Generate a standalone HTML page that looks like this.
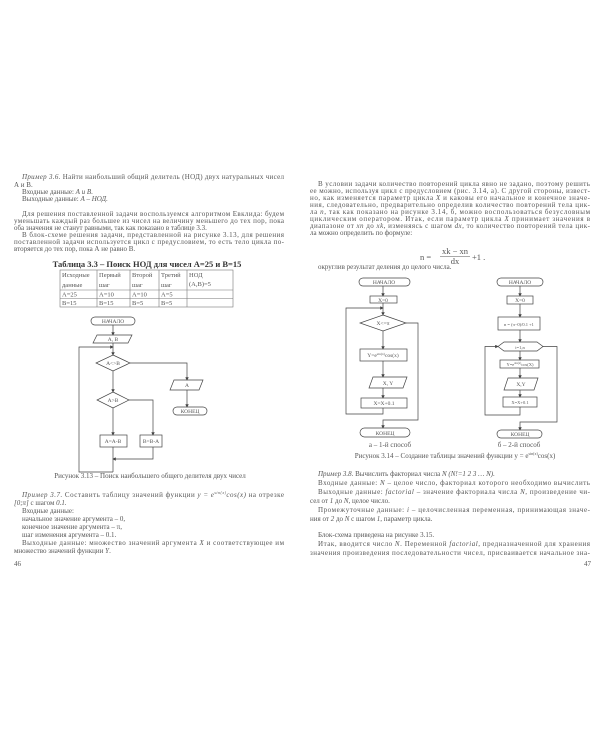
<!DOCTYPE html>
<html><head><meta charset="utf-8"><style>
html,body{margin:0;padding:0;background:#fff;}
svg{display:block;}
text{font-family:"Liberation Serif","DejaVu Serif",serif;fill:#555;}
.t{font-size:7px;}
.s{font-family:"Liberation Sans",sans-serif;font-size:5.5px;fill:#444;}
.i{font-style:italic;}
</style></head><body>
<svg width="600" height="750" viewBox="0 0 600 750" xmlns="http://www.w3.org/2000/svg">
<defs><marker id="a" markerWidth="5" markerHeight="5" refX="4" refY="2.5" orient="auto"><path d="M0,0 L5,2.5 L0,5z" fill="#444"/></marker></defs>
<rect width="600" height="750" fill="#fff"/>
<!-- LEFT PAGE TEXT -->
<g class="t">
<text x="22" y="179" textLength="262"><tspan class="i">Пример 3.6.</tspan> Найти наибольший общий делитель (НОД) двух натуральных чисел</text>
<text x="14" y="187">А и В.</text>
<text x="22" y="194">Входные данные: <tspan class="i">А и В.</tspan></text>
<text x="22" y="201">Выходные данные: <tspan class="i">А – НОД.</tspan></text>
<text x="22" y="216" textLength="262">Для решения поставленной задачи воспользуемся алгоритмом Евклида: будем</text>
<text x="14" y="223" textLength="270">уменьшать каждый раз большее из чисел на величину меньшего до тех пор, пока</text>
<text x="14" y="230">оба значения не станут равными, так как показано в таблице 3.3.</text>
<text x="22" y="237" textLength="262">В блок-схеме решения задачи, представленной на рисунке 3.13, для решения</text>
<text x="14" y="244" textLength="270">поставленной задачи используется цикл с предусловием, то есть тело цикла по-</text>
<text x="14" y="251">вторяется до тех пор, пока А не равно В.</text>
</g>
<text x="147" y="267" text-anchor="middle" style="font-size:8.5px;font-weight:bold;fill:#333">Таблица 3.3 – Поиск НОД для чисел А=25 и В=15</text>
<g stroke="#777" stroke-width="0.6" fill="none">
<rect x="60" y="270" width="173" height="37"/>
<line x1="60" y1="290" x2="233" y2="290"/><line x1="60" y1="298.5" x2="233" y2="298.5"/>
<line x1="97" y1="270" x2="97" y2="307"/><line x1="130" y1="270" x2="130" y2="307"/><line x1="159" y1="270" x2="159" y2="307"/><line x1="187" y1="270" x2="187" y2="307"/>
</g>
<g class="t" style="font-size:6.5px">
<text x="62" y="277">Исходные</text><text x="62" y="287">данные</text>
<text x="99" y="277">Первый</text><text x="99" y="287">шаг</text>
<text x="132" y="277">Второй</text><text x="132" y="287">шаг</text>
<text x="161" y="277">Третий</text><text x="161" y="287">шаг</text>
<text x="189" y="277">НОД</text><text x="189" y="286">(А,В)=5</text>
<text x="62" y="296.5">А=25</text><text x="99" y="296.5">А=10</text><text x="132" y="296.5">А=10</text><text x="161" y="296.5">А=5</text>
<text x="62" y="305">В=15</text><text x="99" y="305">В=15</text><text x="132" y="305">В=5</text><text x="161" y="305">В=5</text>
</g>
<!-- LEFT FLOWCHART -->
<g stroke="#444" stroke-width="0.7" fill="none">
<rect x="91" y="317" width="44" height="8" rx="4"/>
<polygon points="97,335 132,335 128,343 93,343"/>
<polygon points="113,355 130,363 113,371 96,363"/>
<polygon points="113,392 129,400 113,408 97,400"/>
<rect x="100" y="435" width="27" height="12"/>
<rect x="140" y="435" width="22" height="12"/>
<polygon points="174,380 203,380 199,390 170,390"/>
<rect x="173" y="407" width="34" height="8" rx="4"/>
<line x1="113" y1="325" x2="113" y2="335" marker-end="url(#a)"/>
<line x1="113" y1="343" x2="113" y2="355" marker-end="url(#a)"/>
<line x1="113" y1="371" x2="113" y2="392" marker-end="url(#a)"/>
<line x1="113" y1="408" x2="113" y2="435" marker-end="url(#a)"/>
<polyline points="130,363 187,363 187,380" marker-end="url(#a)"/>
<line x1="187" y1="390" x2="187" y2="407" marker-end="url(#a)"/>
<polyline points="129,400 153,400 153,435" marker-end="url(#a)"/>
<line x1="113" y1="447" x2="113" y2="472"/>
<polyline points="153,447 153,459 113,459" marker-end="url(#a)"/>
<polyline points="113,472 79,472 79,347 113,347" marker-end="url(#a)"/>
</g>
<g class="s" text-anchor="middle">
<text x="113" y="323">НАЧАЛО</text><text x="113" y="341">А, В</text>
<text x="113" y="365">А&lt;&gt;В</text><text x="113" y="402">А&gt;В</text>
<text x="113" y="443">А=А-В</text><text x="151" y="443">В=В-А</text>
<text x="187" y="387">А</text><text x="190" y="413">КОНЕЦ</text>
</g>
<text class="t" x="150" y="478" text-anchor="middle">Рисунок 3.13 – Поиск наибольшего общего делителя двух чисел</text>
<g class="t">
<text x="22" y="497" textLength="262"><tspan class="i">Пример 3.7.</tspan> Составить таблицу значений функции <tspan class="i">y = e<tspan style="font-size:4px" dy="-3">sin(x)</tspan><tspan dy="3">cos(x)</tspan></tspan> на отрезке</text>
<text x="14" y="505"><tspan class="i">[0;π]</tspan> с шагом <tspan class="i">0.1.</tspan></text>
<text x="22" y="513">Входные данные:</text>
<text x="22" y="521">начальное значение аргумента – 0,</text>
<text x="22" y="529">конечное значение аргумента – π,</text>
<text x="22" y="537">шаг изменения аргумента – 0.1.</text>
<text x="22" y="545" textLength="262">Выходные данные: множество значений аргумента <tspan class="i">X</tspan> и соответствующее им</text>
<text x="14" y="553">множество значений функции <tspan class="i">Y</tspan>.</text>
<text x="14" y="566">46</text>
<text x="584" y="566">47</text>
</g>
<!-- RIGHT PAGE TEXT -->
<g class="t">
<text x="318" y="186" textLength="272">В условии задачи количество повторений цикла явно не задано, поэтому решить</text>
<text x="310" y="193" textLength="280">ее можно, используя цикл с предусловием (рис. 3.14, а). С другой стороны, извест-</text>
<text x="310" y="200" textLength="280">но, как изменяется параметр цикла <tspan class="i">X</tspan> и каковы его начальное и конечное значе-</text>
<text x="310" y="207" textLength="280">ния, следовательно, предварительно определив количество повторений тела цик-</text>
<text x="310" y="214" textLength="280">ла <tspan class="i">n</tspan>, так как показано на рисунке 3.14, б, можно воспользоваться безусловным</text>
<text x="310" y="221" textLength="280">циклическим оператором. Итак, если параметр цикла <tspan class="i">X</tspan> принимает значения в</text>
<text x="310" y="228" textLength="280">диапазоне от <tspan class="i">xn</tspan> до <tspan class="i">xk</tspan>, изменяясь с шагом <tspan class="i">dx</tspan>, то количество повторений тела цик-</text>
<text x="310" y="235">ла можно определить по формуле:</text>
<text x="420" y="260" style="font-size:8.5px">n =</text>
<text x="455" y="254" text-anchor="middle" style="font-size:8.5px">xk − xn</text>
<line x1="440" y1="256.5" x2="470" y2="256.5" stroke="#555" stroke-width="0.6"/>
<text x="455" y="264" text-anchor="middle" style="font-size:8.5px">dx</text>
<text x="472" y="260" style="font-size:8.5px">+1 .</text>
<text x="318" y="269">округлив результат деления до целого числа.</text>
</g>
<!-- FIG a -->
<g stroke="#444" stroke-width="0.7" fill="none">
<rect x="359" y="278" width="51" height="8" rx="4"/>
<rect x="370" y="296" width="27" height="7"/>
<polygon points="383,315 406,323 383,331 360,323"/>
<rect x="360" y="349" width="47" height="12"/>
<polygon points="373,377 407,377 403,388 369,388"/>
<rect x="361" y="398" width="46" height="10"/>
<rect x="360" y="428" width="50" height="9" rx="4.5"/>
<line x1="383" y1="286" x2="383" y2="296" marker-end="url(#a)"/>
<line x1="383" y1="303" x2="383" y2="315" marker-end="url(#a)"/>
<line x1="383" y1="331" x2="383" y2="349" marker-end="url(#a)"/>
<line x1="383" y1="361" x2="383" y2="377" marker-end="url(#a)"/>
<line x1="383" y1="388" x2="383" y2="398" marker-end="url(#a)"/>
<polyline points="383,408 383,414 346,414 346,308 383,308" marker-end="url(#a)"/>
<polyline points="406,323 418,323 418,420 383,420 383,428" marker-end="url(#a)"/>
</g>
<g class="s" text-anchor="middle">
<text x="384" y="284">НАЧАЛО</text><text x="383" y="302">X=0</text><text x="383" y="325">X&lt;=π</text>
<text x="383" y="357">Y=e<tspan style="font-size:3.5px" dy="-2">sin(x)</tspan><tspan dy="2">cos(x)</tspan></text>
<text x="388" y="385">X, Y</text><text x="384" y="405">X=X+0.1</text><text x="385" y="435">КОНЕЦ</text>
</g>
<text class="t" x="390" y="447" text-anchor="middle">а – 1-й способ</text>
<!-- FIG b -->
<g stroke="#444" stroke-width="0.7" fill="none">
<rect x="497" y="278" width="46" height="8" rx="4"/>
<rect x="507" y="296" width="26" height="8"/>
<rect x="498" y="317" width="42" height="13"/>
<polygon points="504,342 537,342 543,346.5 537,351 504,351 498,346.5"/>
<rect x="500" y="360" width="39" height="8"/>
<polygon points="508,378 538,378 534,390 504,390"/>
<rect x="503" y="397" width="34" height="10"/>
<rect x="497" y="430" width="45" height="8" rx="4"/>
<line x1="520" y1="286" x2="520" y2="296" marker-end="url(#a)"/>
<line x1="520" y1="304" x2="520" y2="317" marker-end="url(#a)"/>
<line x1="520" y1="330" x2="520" y2="342" marker-end="url(#a)"/>
<line x1="520" y1="351" x2="520" y2="360" marker-end="url(#a)"/>
<line x1="520" y1="368" x2="520" y2="378" marker-end="url(#a)"/>
<line x1="520" y1="390" x2="520" y2="397" marker-end="url(#a)"/>
<polyline points="520,407 520,415 485,415 485,346.5 498,346.5" marker-end="url(#a)"/>
<polyline points="543,346.5 557,346.5 557,422 520,422 520,430" marker-end="url(#a)"/>
</g>
<g class="s" text-anchor="middle">
<text x="520" y="284">НАЧАЛО</text><text x="520" y="302">X=0</text>
<text x="519" y="326" style="font-size:4.5px">n = (π−0)/0.1 +1</text>
<text x="520" y="349" style="font-size:4.5px">i=1,n</text>
<text x="520" y="366" style="font-size:4.5px">Y=e<tspan style="font-size:3px" dy="-2">sin(x)</tspan><tspan dy="2">cos(X)</tspan></text>
<text x="521" y="386">X,Y</text><text x="520" y="404" style="font-size:4.5px">X=X+0.1</text><text x="520" y="436">КОНЕЦ</text>
</g>
<text class="t" x="519" y="447" text-anchor="middle">б – 2-й способ</text>
<text class="t" x="455" y="458" text-anchor="middle">Рисунок 3.14 – Создание таблицы значений функции y = e<tspan style="font-size:4px" dy="-3">sin(x)</tspan><tspan dy="3">cos(x)</tspan></text>
<g class="t">
<text x="318" y="476"><tspan class="i">Пример 3.8.</tspan> Вычислить факториал числа <tspan class="i">N (N!=1 2 3 … N).</tspan></text>
<text x="318" y="485" textLength="272">Входные данные: <tspan class="i">N</tspan> – целое число, факториал которого необходимо вычислить</text>
<text x="318" y="494" textLength="272">Выходные данные: <tspan class="i">factorial</tspan> – значение факториала числа <tspan class="i">N</tspan>, произведение чи-</text>
<text x="310" y="503">сел от <tspan class="i">1</tspan> до <tspan class="i">N</tspan>, целое число.</text>
<text x="318" y="512" textLength="272">Промежуточные данные: <tspan class="i">i</tspan> – целочисленная переменная, принимающая значе-</text>
<text x="310" y="521">ния от <tspan class="i">2</tspan> до <tspan class="i">N</tspan> с шагом <tspan class="i">1</tspan>, параметр цикла.</text>
<text x="318" y="537">Блок-схема приведена на рисунке 3.15.</text>
<text x="318" y="546" textLength="272">Итак, вводится число <tspan class="i">N</tspan>. Переменной <tspan class="i">factorial</tspan>, предназначенной для хранения</text>
<text x="310" y="555" textLength="280">значения произведения последовательности чисел, присваивается начальное зна-</text>
</g>
</svg>
</body></html>
